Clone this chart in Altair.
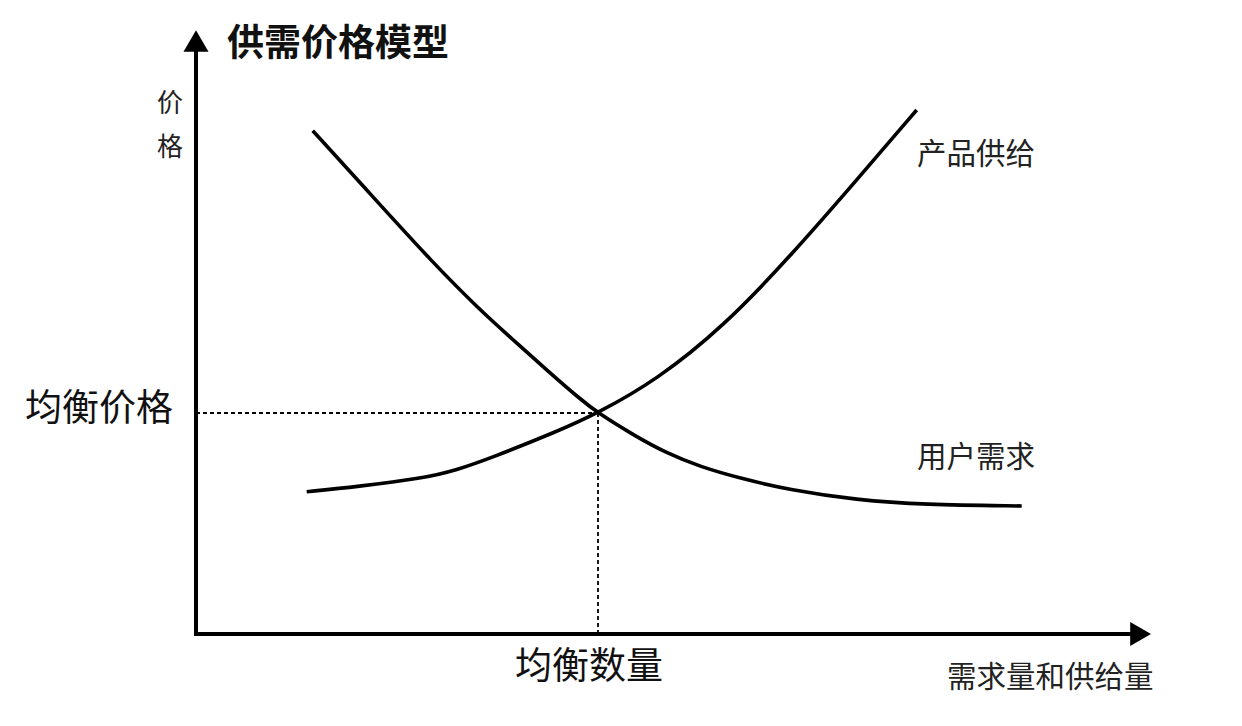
import altair as alt
import pandas as pd

# Demand curve (用户需求): quantity, price
demand_q = [11.67, 17.07, 23.73, 28.4, 31.73, 35.07, 38.4, 40.2, 43.73, 47.07, 50.4, 54.4, 59.4, 66.07, 72.73, 82.57]
demand_p = [50.33, 44.4, 37.07, 32.4, 29.4, 26.4, 23.5, 22.1, 19.9, 18.07, 16.73, 15.57, 14.4, 13.4, 12.93, 12.8]

# Supply curve (产品供给)
supply_q = [11.07, 16.07, 22.73, 26.07, 29.4, 36.07, 40.2, 46.07, 52.73, 59.4, 66.07, 72.07]
supply_p = [14.23, 14.73, 15.57, 16.4, 17.57, 20.23, 22.1, 25.4, 30.73, 37.73, 45.4, 52.4]

# Equilibrium
eq_q = 40.2
eq_p = 22.1

# Axis extents
x_axis_end = 93.4
y_axis_end = 58.2

FONT = "Noto Sans CJK SC"

x_scale = alt.Scale(domain=[-18.8, 103.8], nice=False, zero=False)
y_scale = alt.Scale(domain=[-8.4, 62.6], nice=False, zero=False)
X = lambda f: alt.X(f, type="quantitative", scale=x_scale, axis=None)
Y = lambda f: alt.Y(f, type="quantitative", scale=y_scale, axis=None)

curves = pd.DataFrame(
    {"q": demand_q + supply_q, "p": demand_p + supply_p,
     "series": ["用户需求"] * len(demand_q) + ["产品供给"] * len(supply_q)}
)

curve_layer = alt.Chart(curves).mark_line(
    color="black", strokeWidth=3.6, interpolate="basis"
).encode(x=X("q"), y=Y("p"), detail="series:N")

axes_df = pd.DataFrame({"x": [0, 0], "y": [0, 0], "x2": [x_axis_end, 0], "y2": [0, y_axis_end]})
axes_layer = alt.Chart(axes_df).mark_rule(color="black", strokeWidth=4, strokeCap="square").encode(
    x=X("x"), y=Y("y"), x2="x2:Q", y2="y2:Q"
)

arrow_up = alt.Chart(pd.DataFrame({"x": [0], "y": [59.3]})).mark_point(
    shape="triangle-up", size=625, filled=True, color="black", opacity=1
).encode(x=X("x"), y=Y("y"))
arrow_right = alt.Chart(pd.DataFrame({"x": [94.46], "y": [0]})).mark_point(
    shape="triangle-right", size=576, filled=True, color="black", opacity=1
).encode(x=X("x"), y=Y("y"))

dash_df = pd.DataFrame({"x": [0, eq_q], "y": [eq_p, 0], "x2": [eq_q, eq_q], "y2": [eq_p, eq_p]})
dash_layer = alt.Chart(dash_df).mark_rule(color="black", strokeWidth=1.8, strokeDash=[4, 3]).encode(
    x=X("x"), y=Y("y"), x2="x2:Q", y2="y2:Q"
)

title_layer = alt.Chart(pd.DataFrame({"x": [3.1], "y": [58.9], "t": ["供需价格模型"]})).mark_text(
    font=FONT, fontSize=37, fontWeight="bold", align="left", baseline="middle", color="#111"
).encode(x=X("x"), y=Y("y"), text="t:N")

ylab_layer = alt.Chart(pd.DataFrame({"x": [-2.6, -2.6], "y": [53.0, 48.6], "t": ["价", "格"]})).mark_text(
    font=FONT, fontSize=26, align="center", baseline="middle", color="#222"
).encode(x=X("x"), y=Y("y"), text="t:N")

eqp_layer = alt.Chart(pd.DataFrame({"x": [-2.3], "y": [22.4], "t": ["均衡价格"]})).mark_text(
    font=FONT, fontSize=37, align="right", baseline="middle", color="#111"
).encode(x=X("x"), y=Y("y"), text="t:N")

eqq_layer = alt.Chart(pd.DataFrame({"x": [39.3], "y": [-3.4], "t": ["均衡数量"]})).mark_text(
    font=FONT, fontSize=37, align="center", baseline="middle", color="#111"
).encode(x=X("x"), y=Y("y"), text="t:N")

labels_layer = alt.Chart(pd.DataFrame({
    "x": [72.1, 72.1, 75.1], "y": [47.9, 17.6, -4.4],
    "t": ["产品供给", "用户需求", "需求量和供给量"]})).mark_text(
    font=FONT, fontSize=29.5, align="left", baseline="middle", color="#222"
).encode(x=X("x"), y=Y("y"), text="t:N")

chart = alt.layer(
    dash_layer, axes_layer, arrow_up, arrow_right, curve_layer,
    title_layer, ylab_layer, eqp_layer, eqq_layer, labels_layer
).properties(
    width=1226, height=710, padding=0, autosize=alt.AutoSizeParams(type="none"),
    background="white"
).configure_view(stroke=None)

chart.save("out.html", embed_options={"renderer": "svg", "actions": False})
